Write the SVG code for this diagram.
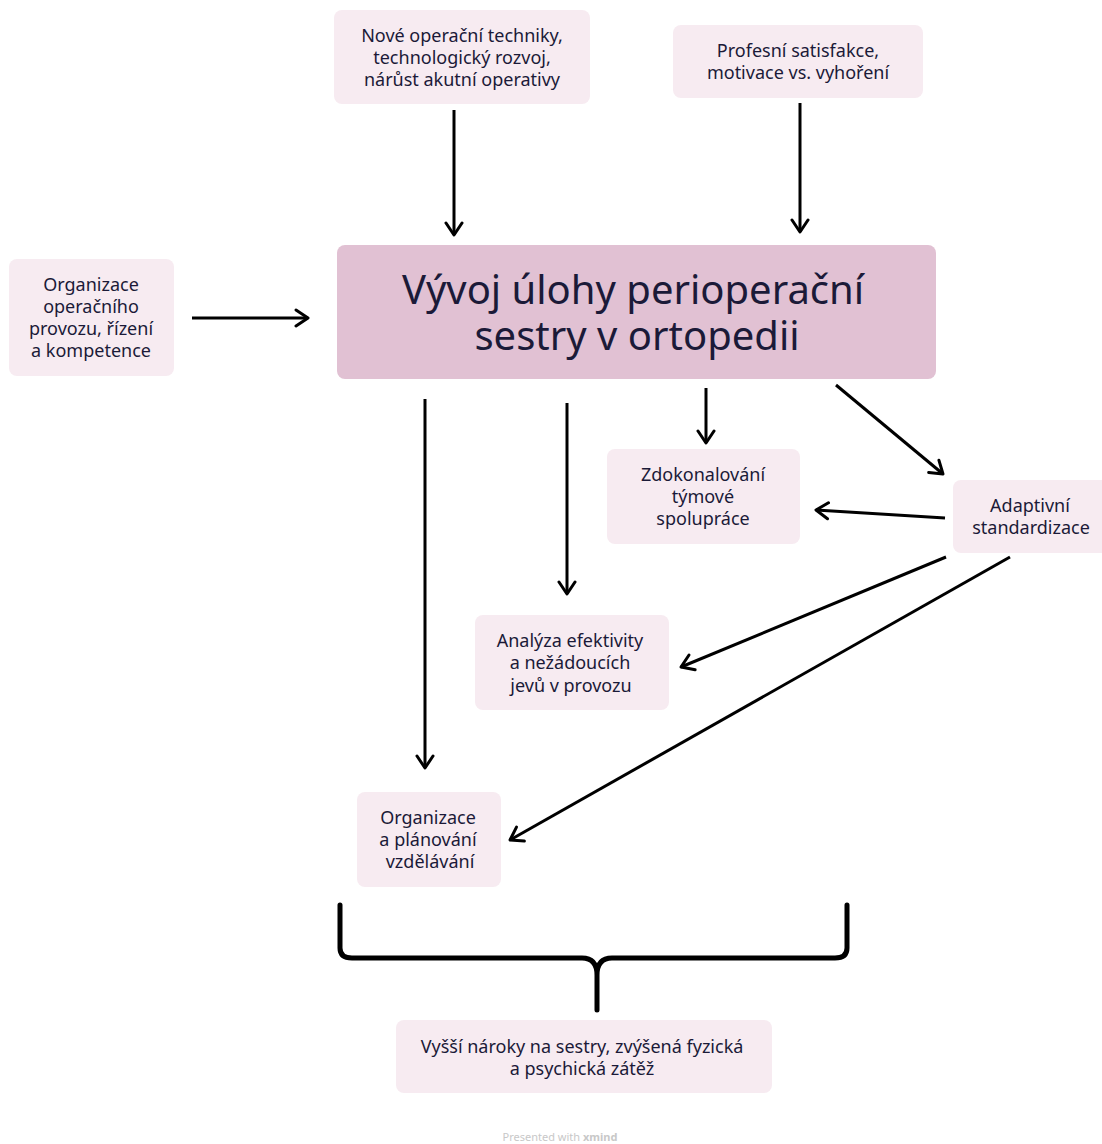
<svg xmlns="http://www.w3.org/2000/svg" width="1102" height="1144" viewBox="0 0 1102 1144">
<defs>
<marker id="ah" viewBox="0 0 20 20" refX="17" refY="10" markerWidth="20" markerHeight="20" markerUnits="userSpaceOnUse" orient="auto">
<path d="M5,2 L17,10 L5,18" fill="none" stroke="#000" stroke-width="3" stroke-linecap="round" stroke-linejoin="round"/>
</marker>
</defs>
<style>
.n{fill:#f7ebf1}
.t{font-family:"Noto Sans","Liberation Sans",sans-serif;font-size:18px;fill:#1b1a38;text-anchor:middle;dominant-baseline:central}
.m{font-size:40px}
.c{stroke:#000;stroke-width:3;fill:none;marker-end:url(#ah)}
</style>
<rect width="1102" height="1144" fill="#fff"/>
<g id="n-top1"><rect class="n" x="334" y="10" width="256" height="94" rx="8"/>
<text class="t" x="462" y="35">Nové operační techniky,</text>
<text class="t" x="462" y="57">technologický rozvoj,</text>
<text class="t" x="462" y="79">nárůst akutní operativy</text></g>
<g id="n-top2"><rect class="n" x="673" y="25" width="250" height="73" rx="8"/>
<text class="t" x="798" y="50">Profesní satisfakce,</text>
<text class="t" x="798" y="72">motivace vs. vyhoření</text></g>
<g id="n-left"><rect class="n" x="9" y="259" width="165" height="117" rx="8"/>
<text class="t" x="91" y="284">Organizace</text>
<text class="t" x="91" y="306">operačního</text>
<text class="t" x="91" y="328">provozu, řízení</text>
<text class="t" x="91" y="350">a kompetence</text></g>
<g id="n-main"><rect x="337" y="245" width="599" height="134" rx="8" fill="#e1c1d3"/>
<text class="t m" x="633" y="288">Vývoj úlohy perioperační</text>
<text class="t m" x="637" y="334">sestry v ortopedii</text></g>
<g id="n-team"><rect class="n" x="607" y="449" width="193" height="95" rx="8"/>
<text class="t" x="703" y="474">Zdokonalování</text>
<text class="t" x="703" y="496">týmové</text>
<text class="t" x="703" y="518">spolupráce</text></g>
<g id="n-adapt"><rect class="n" x="953" y="480" width="160" height="73" rx="8"/>
<text class="t" x="1030" y="505">Adaptivní</text>
<text class="t" x="1031" y="527">standardizace</text></g>
<g id="n-anal"><rect class="n" x="475" y="615" width="194" height="95" rx="8"/>
<text class="t" x="570" y="640">Analýza efektivity</text>
<text class="t" x="570" y="662">a nežádoucích</text>
<text class="t" x="571" y="685">jevů v provozu</text></g>
<g id="n-edu"><rect class="n" x="357" y="792" width="144" height="95" rx="8"/>
<text class="t" x="428" y="817">Organizace</text>
<text class="t" x="428" y="839">a plánování</text>
<text class="t" x="430" y="861">vzdělávání</text></g>
<g id="n-bottom"><rect class="n" x="396" y="1020" width="376" height="73" rx="8"/>
<text class="t" x="582" y="1046">Vyšší nároky na sestry, zvýšená fyzická</text>
<text class="t" x="582" y="1068">a psychická zátěž</text></g>
<g id="connectors">
<line class="c" x1="454" y1="110" x2="454" y2="235"/>
<line class="c" x1="800" y1="103" x2="800" y2="232"/>
<line class="c" x1="192" y1="318" x2="308" y2="318"/>
<line class="c" x1="425" y1="399" x2="425" y2="768"/>
<line class="c" x1="567" y1="403" x2="567" y2="594"/>
<line class="c" x1="706" y1="388" x2="706" y2="443"/>
<line class="c" x1="836" y1="385" x2="943" y2="474"/>
<line class="c" x1="945" y1="518" x2="816" y2="510"/>
<line class="c" x1="946" y1="557" x2="681" y2="667"/>
<line class="c" x1="1010" y1="557" x2="510" y2="840"/>
<path d="M340,905 L340,948 Q340,958 352,958 L582,958 Q597,958 597,975 L597,1010 M597,1010 L597,975 Q597,958 612,958 L835,958 Q847,958 847,948 L847,905" fill="none" stroke="#000" stroke-width="5" stroke-linejoin="round" stroke-linecap="round"/>
</g>
<text x="560" y="1136" font-family="Noto Sans, Liberation Sans, sans-serif" font-size="11" fill="#c8c8c8" text-anchor="middle" dominant-baseline="central">Presented with <tspan font-weight="bold">xmind</tspan></text>
</svg>
